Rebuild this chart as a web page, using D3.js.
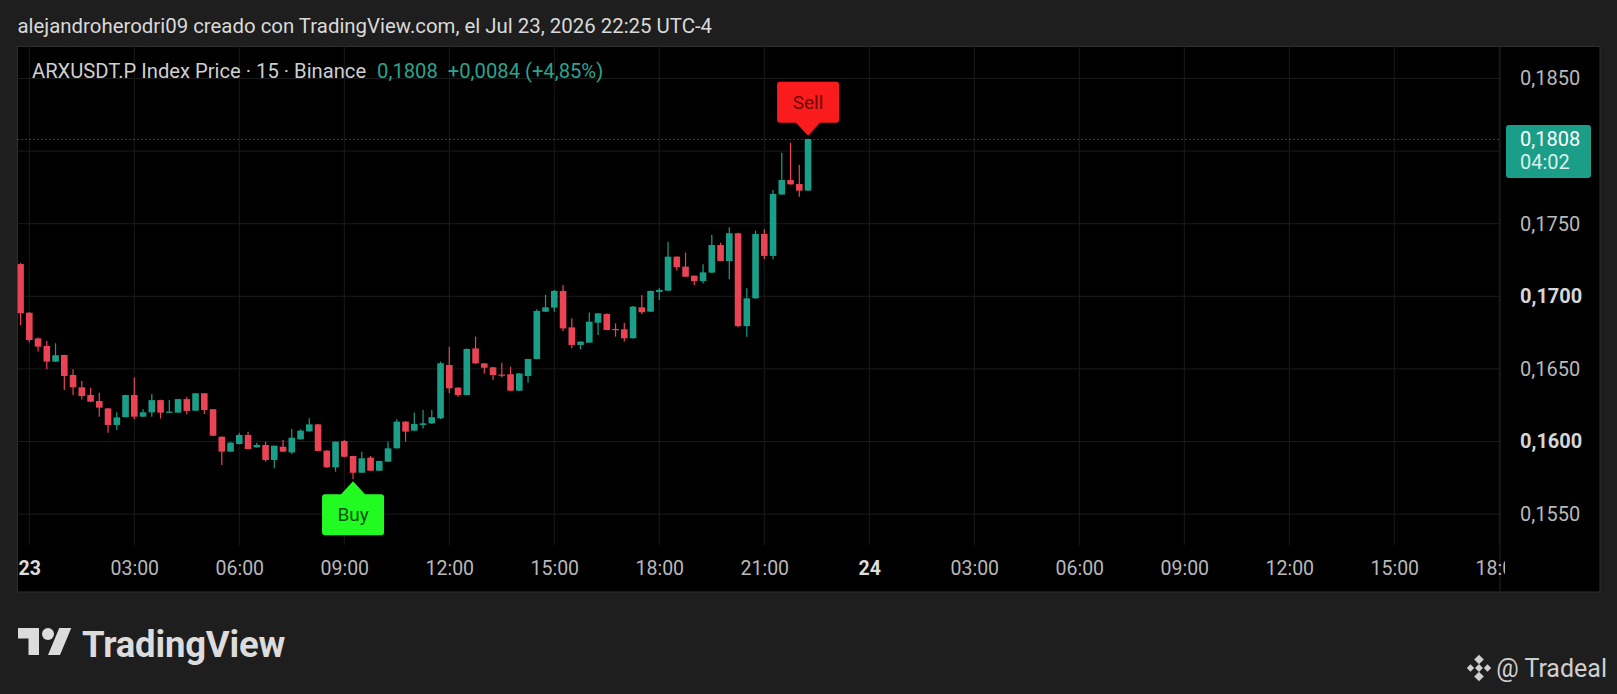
<!DOCTYPE html>
<html>
<head>
<meta charset="utf-8">
<script src="https://cdn.jsdelivr.net/npm/d3@7"></script>
<style>
	body { margin: 0; background: #1e1e1e; overflow: hidden; }
	svg text { font-family: Roboto, "Noto Sans", sans-serif; }
</style>
</head>
<body>
<svg id="chart" width="1617" height="694"></svg>
<script>
// 15 min candles, first one is Jul 22 23:45 UTC-4 (partly cut by the frame)
const startTime	= Date.UTC(2026, 6, 22, 23, 45);
const barMinutes	= 15;

const opens = [
	0.17222, 0.16887, 0.16710, 0.16658, 0.16550, 0.16596, 0.16458, 0.16373, 0.16320, 0.16279,
	0.16228, 0.16114, 0.16168, 0.16320, 0.16171, 0.16201, 0.16285, 0.16199, 0.16199, 0.16292,
	0.16212, 0.16332, 0.16222, 0.16033, 0.15930, 0.15983, 0.16045, 0.15960, 0.15976, 0.15873,
	0.15964, 0.15925, 0.16015, 0.16070, 0.16118, 0.15937, 0.15822, 0.16003, 0.15900, 0.15785,
	0.15889, 0.15799, 0.15861, 0.15953, 0.16137, 0.16075, 0.16114, 0.16125, 0.16160, 0.16527,
	0.16371, 0.16320, 0.16641, 0.16538, 0.16511, 0.16461, 0.16463, 0.16350, 0.16451, 0.16568,
	0.16894, 0.16922, 0.17037, 0.16786, 0.16665, 0.16681, 0.16818, 0.16878, 0.16775, 0.16773,
	0.16711, 0.16924, 0.16894, 0.17030, 0.17039, 0.17273, 0.17204, 0.17142, 0.17105, 0.17163,
	0.17353, 0.17243, 0.17434, 0.16795, 0.16986, 0.17429, 0.17278, 0.17701, 0.17801, 0.17773,
	0.17728
];
const highs = [
	0.17230, 0.16892, 0.16716, 0.16692, 0.16676, 0.16598, 0.16497, 0.16417, 0.16371, 0.16336,
	0.16230, 0.16201, 0.16322, 0.16440, 0.16222, 0.16327, 0.16287, 0.16286, 0.16294, 0.16309,
	0.16334, 0.16334, 0.16224, 0.16035, 0.15999, 0.16061, 0.16068, 0.15992, 0.15999, 0.15973,
	0.16010, 0.16086, 0.16084, 0.16160, 0.16120, 0.15939, 0.16001, 0.16010, 0.15902, 0.15930,
	0.15900, 0.15868, 0.15999, 0.16153, 0.16139, 0.16199, 0.16217, 0.16217, 0.16550, 0.16653,
	0.16373, 0.16641, 0.16722, 0.16540, 0.16513, 0.16543, 0.16515, 0.16471, 0.16570, 0.16910,
	0.17009, 0.17044, 0.17078, 0.16848, 0.16690, 0.16889, 0.16885, 0.16883, 0.16814, 0.16818,
	0.16934, 0.17009, 0.17039, 0.17056, 0.17376, 0.17275, 0.17301, 0.17144, 0.17220, 0.17422,
	0.17369, 0.17475, 0.17438, 0.17055, 0.17452, 0.17461, 0.17732, 0.17989, 0.18058, 0.17904,
	0.18085
];
const lows = [
	0.16802, 0.16681, 0.16619, 0.16497, 0.16548, 0.16355, 0.16320, 0.16290, 0.16272, 0.16171,
	0.16061, 0.16079, 0.16166, 0.16153, 0.16169, 0.16171, 0.16159, 0.16197, 0.16197, 0.16187,
	0.16210, 0.16189, 0.16038, 0.15838, 0.15928, 0.15981, 0.15946, 0.15958, 0.15861, 0.15815,
	0.15928, 0.15914, 0.16013, 0.16068, 0.15933, 0.15820, 0.15792, 0.15893, 0.15740, 0.15783,
	0.15797, 0.15797, 0.15859, 0.15951, 0.15999, 0.16073, 0.16090, 0.16120, 0.16155, 0.16332,
	0.16309, 0.16318, 0.16536, 0.16469, 0.16423, 0.16440, 0.16348, 0.16348, 0.16405, 0.16566,
	0.16892, 0.16894, 0.16761, 0.16642, 0.16635, 0.16679, 0.16733, 0.16766, 0.16722, 0.16688,
	0.16709, 0.16878, 0.16892, 0.16974, 0.17037, 0.17177, 0.17133, 0.17078, 0.17089, 0.17161,
	0.17241, 0.17117, 0.16786, 0.16722, 0.16984, 0.17255, 0.17255, 0.17699, 0.17769, 0.17686,
	0.17726
];
const closes = [
	0.16883, 0.16699, 0.16653, 0.16550, 0.16594, 0.16451, 0.16373, 0.16313, 0.16274, 0.16233,
	0.16114, 0.16166, 0.16320, 0.16171, 0.16201, 0.16285, 0.16199, 0.16206, 0.16292, 0.16210,
	0.16332, 0.16217, 0.16040, 0.15930, 0.15992, 0.16045, 0.15948, 0.15976, 0.15873, 0.15971,
	0.15930, 0.16026, 0.16075, 0.16118, 0.15935, 0.15822, 0.15999, 0.15895, 0.15785, 0.15884,
	0.15799, 0.15866, 0.15953, 0.16137, 0.16068, 0.16121, 0.16125, 0.16167, 0.16539, 0.16366,
	0.16320, 0.16637, 0.16538, 0.16508, 0.16458, 0.16458, 0.16350, 0.16469, 0.16568, 0.16899,
	0.16924, 0.17037, 0.16779, 0.16665, 0.16688, 0.16825, 0.16883, 0.16768, 0.16770, 0.16711,
	0.16929, 0.16890, 0.17037, 0.17044, 0.17273, 0.17200, 0.17135, 0.17105, 0.17165, 0.17353,
	0.17243, 0.17434, 0.16795, 0.16986, 0.17429, 0.17278, 0.17705, 0.17801, 0.17771, 0.17728,
	0.18083
];

const priceTicks	= [0.155, 0.160, 0.165, 0.170, 0.175, 0.180, 0.185];
const boldTicks		= [0.160, 0.170];
const lastPrice		= 0.1808;
const countdown		= '04:02';
const signals		= [ { text: 'Buy', bar: 38 }, { text: 'Sell', bar: 90 } ];

const headerText	= 'alejandroherodri09 creado con TradingView.com, el Jul 23, 2026 22:25 UTC-4';
const legendTitle	= 'ARXUSDT.P Index Price · 15 · Binance';
const legendValues	= '0,1808  +0,0084 (+4,85%)';

const upColor		= '#1a9e88';
const downColor		= '#ea4454';

// frame / panes
const frame		= { left: 17.5, top: 46.5, right: 1600, bottom: 592 };
const paneRight	= 1500;
const paneBottom	= 545;

const data = opens.map((o, i) => ({
	time	: new Date(startTime + i * barMinutes * 60000),
	open	: o,
	high	: highs[i],
	low		: lows[i],
	close	: closes[i]
}));

const locale	= d3.formatLocale({ decimal: ',', thousands: '.', grouping: [3], currency: ['', ''] });
const fmtPrice	= locale.format('.4f');

let x = d3.scaleUtc()
	.domain([new Date(Date.UTC(2026, 6, 23, 0, 0)), new Date(Date.UTC(2026, 6, 24, 18, 0))])
	.range([29.3, 1499.3]);
let y = d3.scaleLinear().domain([0.155, 0.185]).range([514.1, 78.5]);

let barWidth	= 6.6;
let timeTicks	= x.ticks(d3.utcHour.every(3));

let svg = d3.select('#chart');

svg.append('text')
	.attr('x', 17.5).attr('y', 26).attr('dy', '0.35em')
	.attr('font-size', 20.4).attr('fill', '#d9d9d9')
	.text(headerText);

svg.append('rect')
	.attr('x', frame.left).attr('y', frame.top)
	.attr('width', frame.right - frame.left).attr('height', frame.bottom - frame.top)
	.attr('fill', '#000').attr('stroke', '#2e2e2e');

let defs = svg.append('defs');
defs.append('clipPath').attr('id', 'pane-clip')
	.append('rect')
	.attr('x', frame.left).attr('y', frame.top)
	.attr('width', paneRight - frame.left).attr('height', paneBottom - frame.top);
defs.append('clipPath').attr('id', 'time-clip')
	.append('rect')
	.attr('x', frame.left).attr('y', paneBottom)
	.attr('width', 1505 - frame.left).attr('height', frame.bottom - paneBottom);

// grid
let grid = svg.append('g').attr('id', 'grid-wrapper').attr('stroke', '#1b1b1b');
grid.selectAll('.hgrid')
	.data(priceTicks)
	.enter().append('line')
		.attr('x1', frame.left).attr('x2', paneRight)
		.attr('y1', (o) => (y(o))).attr('y2', (o) => (y(o)));
grid.selectAll('.vgrid')
	.data(timeTicks)
	.enter().append('line')
		.attr('x1', (o) => (x(o))).attr('x2', (o) => (x(o)))
		.attr('y1', frame.top).attr('y2', paneBottom);
grid.append('line')
	.attr('x1', paneRight).attr('x2', paneRight)
	.attr('y1', frame.top).attr('y2', frame.bottom)
	.attr('stroke', '#222');

// legend
let legend = svg.append('text')
	.attr('x', 32).attr('y', 70.5).attr('dy', '0.35em')
	.attr('font-size', 20.2);
legend.append('tspan').attr('fill', '#cfcfcf').text(legendTitle);
legend.append('tspan').attr('fill', '#2ba38d').attr('dx', 11).attr('xml:space', 'preserve').text(legendValues);

// candles
let pane = svg.append('g').attr('clip-path', 'url(#pane-clip)');

pane.append('line')
	.attr('x1', frame.left).attr('x2', paneRight)
	.attr('y1', y(lastPrice)).attr('y2', y(lastPrice))
	.attr('stroke', '#777').attr('stroke-dasharray', '1,3');

let candles = pane.selectAll('.candle')
	.data(data)
	.enter().append('g')
		.attr('class', 'candle')
		.attr('fill', (o) => (o.close >= o.open ? upColor : downColor))
		.attr('stroke', (o) => (o.close >= o.open ? upColor : downColor));

candles.append('line')
	.attr('x1', (o) => (x(o.time))).attr('x2', (o) => (x(o.time)))
	.attr('y1', (o) => (y(o.high))).attr('y2', (o) => (y(o.low)))
	.attr('stroke-width', 1.2);

candles.append('rect')
	.attr('stroke', 'none')
	.attr('x', (o) => (x(o.time) - barWidth / 2))
	.attr('width', barWidth)
	.attr('y', (o) => (y(Math.max(o.open, o.close))))
	.attr('height', (o) => (Math.max(1.2, Math.abs(y(o.open) - y(o.close)))));

// buy / sell labels
let labels = pane.selectAll('.signal')
	.data(signals)
	.enter().append('g')
		.attr('class', 'signal')
		.attr('transform', (o) => {
			let d = data[o.bar];
			let tipY = o.text == 'Sell' ? y(d.high) - 3 : y(d.low) + 2;
			return 'translate(' + x(d.time) + ',' + tipY + ')';
		});

labels.append('path')
	.attr('fill', (o) => (o.text == 'Sell' ? '#fa1c1c' : '#22fb22'))
	.attr('d', (o) => {
		let w = 62, h = 41, p = 13, b = 12, r = 3;
		let s = o.text == 'Sell' ? -1 : 1;
		let top = s * p, far = s * (p + h);
		return 'M0,0 L' + b + ',' + top + ' L' + (w / 2 - r) + ',' + top +
			' Q' + (w / 2) + ',' + top + ' ' + (w / 2) + ',' + (top + s * r) +
			' L' + (w / 2) + ',' + (far - s * r) +
			' Q' + (w / 2) + ',' + far + ' ' + (w / 2 - r) + ',' + far +
			' L' + (-w / 2 + r) + ',' + far +
			' Q' + (-w / 2) + ',' + far + ' ' + (-w / 2) + ',' + (far - s * r) +
			' L' + (-w / 2) + ',' + (top + s * r) +
			' Q' + (-w / 2) + ',' + top + ' ' + (-w / 2 + r) + ',' + top +
			' L' + (-b) + ',' + top + ' Z';
	});

labels.append('text')
	.attr('text-anchor', 'middle')
	.attr('y', (o) => (o.text == 'Sell' ? -33.5 : 33.5))
	.attr('dy', '0.35em')
	.attr('font-size', 19)
	.attr('fill', (o) => (o.text == 'Sell' ? '#6a0606' : '#0b520b'))
	.text((o) => (o.text));

// price axis, labels under the last price box are hidden like on the site
let boxY = y(lastPrice);
let priceAxis = d3.axisRight(y)
	.tickValues(priceTicks.filter((o) => (y(o) < boxY - 22 || y(o) > boxY + 46)))
	.tickSize(0).tickPadding(0).tickFormat(fmtPrice);
svg.append('g')
	.attr('transform', 'translate(1520,0)')
	.call(priceAxis)
	.call((g) => g.select('.domain').remove())
	.attr('font-family', null).attr('font-size', null)
	.selectAll('text')
		.attr('font-size', 20)
		.attr('font-weight', (o) => (boldTicks.includes(o) ? 700 : 400))
		.attr('fill', (o) => (boldTicks.includes(o) ? '#d6d6d6' : '#b9b9b9'));

// last price box
svg.append('rect')
	.attr('x', 1506).attr('y', boxY - 14.5)
	.attr('width', 85).attr('height', 53).attr('rx', 3)
	.attr('fill', upColor);
svg.append('text')
	.attr('x', 1520).attr('y', boxY).attr('dy', '0.35em')
	.attr('font-size', 20).attr('fill', '#ffffff')
	.text(fmtPrice(lastPrice));
svg.append('text')
	.attr('x', 1520).attr('y', boxY + 23).attr('dy', '0.35em')
	.attr('font-size', 20).attr('fill', '#d9f1ec')
	.text(countdown);

// time axis
let timeAxis = d3.axisBottom(x)
	.tickValues(timeTicks)
	.tickSize(0)
	.tickFormat((d) => (d.getUTCHours() === 0 ? d3.utcFormat('%-d')(d) : d3.utcFormat('%H:%M')(d)));
svg.append('g')
	.attr('clip-path', 'url(#time-clip)')
	.append('g')
	.attr('transform', 'translate(0,568)')
	.call(timeAxis)
	.call((g) => g.select('.domain').remove())
	.attr('font-family', null).attr('font-size', null)
	.selectAll('text')
		.attr('y', 0).attr('dy', '0.35em')
		.attr('font-size', 19.5)
		.attr('font-weight', (d) => (d.getUTCHours() === 0 ? 700 : 400))
		.attr('fill', (d) => (d.getUTCHours() === 0 ? '#dedede' : '#b9b9b9'));

// TradingView logo
let logo = svg.append('g').attr('transform', 'translate(18,622) scale(1.5)').attr('fill', '#dcdcdc');
logo.append('path').attr('d', 'M14 22H7V11H0V4h14v18zM28 22h-8l7.5-18h8L28 22z');
logo.append('circle').attr('cx', 20).attr('cy', 8).attr('r', 4);
svg.append('text')
	.attr('x', 82).attr('y', 644).attr('dy', '0.35em')
	.attr('font-size', 36.5).attr('font-weight', 700).attr('letter-spacing', -0.2)
	.attr('fill', '#dcdcdc')
	.text('TradingView');

// watermark
let bnb = svg.append('g').attr('transform', 'translate(1479,668)').attr('fill', '#cfcfcf');
bnb.selectAll('rect')
	.data([[0, -8.5, 3.4], [-8.5, 0, 2.6], [8.5, 0, 2.6], [0, 8.5, 3.4], [0, 0, 2.8]])
	.enter().append('rect')
		.attr('x', (o) => (o[0] - o[2])).attr('y', (o) => (o[1] - o[2]))
		.attr('width', (o) => (o[2] * 2)).attr('height', (o) => (o[2] * 2))
		.attr('transform', (o) => ('rotate(45,' + o[0] + ',' + o[1] + ')'));
svg.append('text')
	.attr('x', 1607).attr('y', 668).attr('dy', '0.35em')
	.attr('text-anchor', 'end')
	.attr('font-size', 25).attr('fill', '#cfcfcf')
	.text('@ Tradeal');
</script>
</body>
</html>
